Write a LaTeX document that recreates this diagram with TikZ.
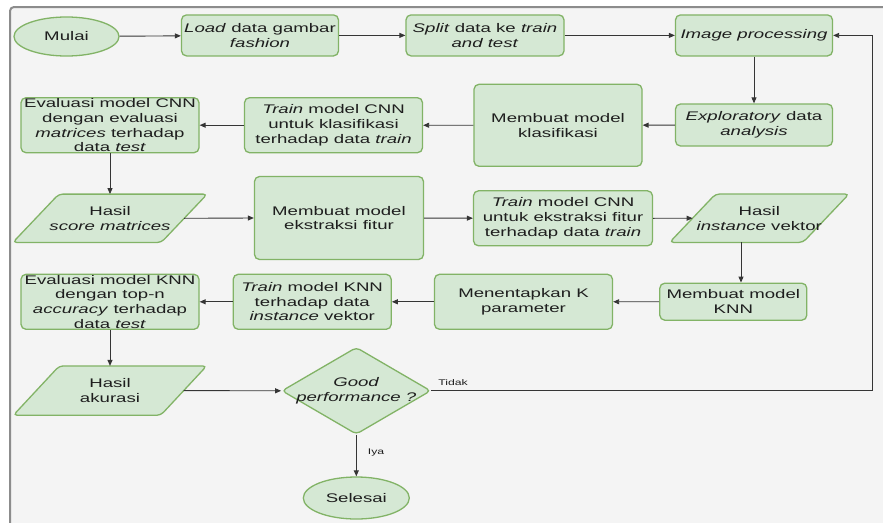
\documentclass[tikz,border=0pt]{standalone}
\usepackage{fontspec}
\setmainfont{Liberation Sans}[FakeStretch=1.49]
\usetikzlibrary{shapes.geometric,arrows.meta,calc}

\definecolor{boxfill}{HTML}{D5E8D4}
\definecolor{boxline}{HTML}{82B366}
\definecolor{pagebg}{HTML}{F4F4F4}
\definecolor{framegray}{HTML}{8C8C8C}
\definecolor{inktext}{HTML}{1E1E1E}
\definecolor{wire}{HTML}{353535}

% slanted data box drawn around an invisible rectangular node #1, slant #2 (pt)
\newcommand\slantbox[2]{%
  \draw[shapeline, rounded corners=4pt]
    ($(#1.south west)+(-#2/2,0)$) -- ($(#1.south east)+(-#2/2,0)$) --
    ($(#1.north east)+(#2/2,0)$) -- ($(#1.north west)+(#2/2,0)$) -- cycle;}

\begin{document}
\begin{tikzpicture}[x=1pt,y=-1pt,
  shapeline/.style={draw=boxline, fill=boxfill, line width=1.3pt},
  shapebase/.style={shapeline, inner sep=0pt},
  proc/.style={shapebase, rectangle, rounded corners=5pt},
  term/.style={shapebase, ellipse},
  iobody/.style={rectangle, inner sep=0pt},
  decision/.style={shapebase, diamond, aspect=1.7, rounded corners=4pt},
  txt/.style={text=inktext, font=\fontsize{12.5}{14.7}\selectfont, align=center, inner sep=0pt},
  small/.style={text=inktext, font=\fontsize{8.2}{10}\selectfont, inner sep=0pt},
  flow/.style={draw=wire, line width=0.9pt, -{Triangle[length=6pt,width=5pt]}}]

% page and frame
\useasboundingbox (0,0) rectangle (883,522);
\fill[white] (0,0) rectangle (883,522);
\fill[pagebg, rounded corners=4pt] (10,7) rectangle (900,540);
\draw[framegray, line width=2pt, rounded corners=4pt] (10,540) -- (10,7) -- (900,7);

% row 1
\node[term, minimum width=105, minimum height=39] (mulai) at (66.5,36.5) {};
\node[txt] (mulai-t) at (mulai) {Mulai};
\node[proc, minimum width=157, minimum height=41] (load) at (260,35.4) {};
\node[txt] (load-t) at (load) {\textit{Load} data gambar\\\textit{fashion}};
\node[proc, minimum width=158, minimum height=41] (split) at (485,35.4) {};
\node[txt] (split-t) at (split) {\textit{Split} data ke \textit{train}\\\textit{and test}};
\node[proc, minimum width=157, minimum height=41] (imgproc) at (754,35.4) {};
\node[txt] (imgproc-t) at (imgproc) {\textit{Image processing}};

% row 2
\node[proc, minimum width=157, minimum height=42] (explor) at (754,125) {};
\node[txt] (explor-t) at (explor) {\textit{Exploratory} data\\\textit{analysis}};
\node[proc, minimum width=168, minimum height=82] (klas) at (558,125.3) {};
\node[txt] (klas-t) at (klas) {Membuat model\\klasifikasi};
\node[proc, minimum width=178, minimum height=55] (trainclf) at (333.5,125.2) {};
\node[txt] (trainclf-t) at (trainclf) {\textit{Train} model CNN\\untuk klasifikasi\\terhadap data \textit{train}};
\node[proc, minimum width=178, minimum height=55] (evalcnn) at (110,125.2) {};
\node[txt] (evalcnn-t) at (evalcnn) {Evaluasi model CNN\\dengan evaluasi\\\textit{matrices} terhadap\\data \textit{test}};

% row 3
\node[iobody, minimum width=148, minimum height=48] (score) at (110,218.3) {};
\slantbox{score}{46}
\node[txt] (score-t) at (score) {Hasil\\\textit{score matrices}};
\node[proc, minimum width=169, minimum height=83] (ekstr) at (339,218) {};
\node[txt] (ekstr-t) at (ekstr) {Membuat model\\ekstraksi fitur};
\node[proc, minimum width=179, minimum height=55] (trainext) at (563,218.3) {};
\node[txt] (trainext-t) at (trainext) {\textit{Train} model CNN\\untuk ekstraksi fitur\\terhadap data \textit{train}};
\node[iobody, minimum width=133, minimum height=48] (inst) at (759.3,218.2) {};
\slantbox{inst}{46}
\node[txt] (inst-t) at (inst) {Hasil\\\textit{instance} vektor};

% row 4
\node[proc, minimum width=147, minimum height=37] (knn) at (733.3,301.7) {};
\node[txt] (knn-t) at (knn) {Membuat model\\KNN};
\node[proc, minimum width=178, minimum height=55] (kparam) at (523.5,301.8) {};
\node[txt] (kparam-t) at (kparam) {Menentapkan K\\parameter};
\node[proc, minimum width=158, minimum height=55] (trainknn) at (312.2,301.8) {};
\node[txt] (trainknn-t) at (trainknn) {\textit{Train} model KNN\\terhadap data\\\textit{instance} vektor};
\node[proc, minimum width=178, minimum height=55] (evalknn) at (110,301.8) {};
\node[txt] (evalknn-t) at (evalknn) {Evaluasi model KNN\\dengan top-n\\\textit{accuracy} terhadap\\data \textit{test}};

% row 5
\node[iobody, minimum width=147, minimum height=49] (akurasi) at (110,390.6) {};
\slantbox{akurasi}{46}
\node[txt] (akurasi-t) at (akurasi) {Hasil\\akurasi};
\node[decision, minimum width=149, minimum height=87] (dec) at (356.3,390.8) {};
\node[txt] (dec-t) at (dec) {\textit{Good}\\\textit{performance ?}};
\node[term, minimum width=106, minimum height=42] (selesai) at (356.3,498) {};
\node[txt] (selesai-t) at (selesai) {Selesai};

% connectors
\draw[flow] (mulai) -- (load);
\draw[flow] (load) -- (split);
\draw[flow] (split) -- (imgproc);
\draw[flow] (imgproc) -- (explor);
\draw[flow] (explor) -- (klas);
\draw[flow] (klas) -- (trainclf);
\draw[flow] (trainclf) -- (evalcnn);
\draw[flow] (evalcnn) -- (score);
\draw[flow] (score.east) -- (ekstr.west);
\draw[flow] (ekstr) -- (trainext);
\draw[flow] (trainext.east) -- (inst.west);
\coordinate (drop) at (741,0);
\draw[flow] (inst.south -| drop) -- (knn.north -| drop);
\draw[flow] (knn) -- (kparam);
\draw[flow] (kparam) -- (trainknn);
\draw[flow] (trainknn) -- (evalknn);
\draw[flow] (evalknn) -- (akurasi);
\draw[flow] (akurasi.east) -- (dec.west);
\draw[flow] (dec.south) -- (selesai.north);
\coordinate (loop) at (872,0);
\draw[flow] (dec.east) -- (dec.east -| loop) |- (imgproc.east);

% branch labels
\node[small] (tidak) at (453,383) {Tidak};
\node[small] (iya) at (376,452.5) {Iya};
\end{tikzpicture}
\end{document}
